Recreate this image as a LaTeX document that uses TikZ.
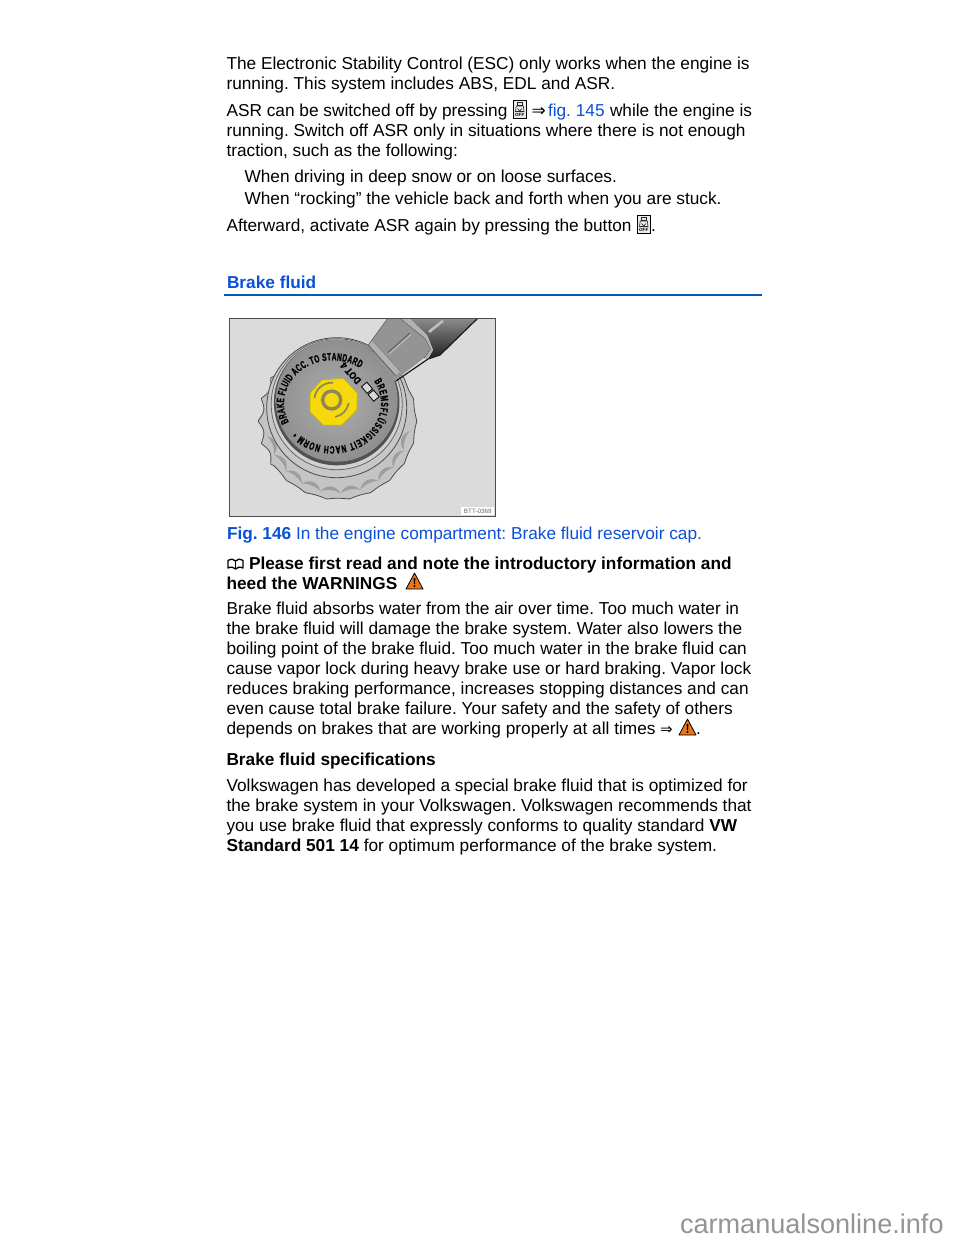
\documentclass[tikz,border=0pt]{standalone}
\usepackage{fontspec}
\setmainfont{Liberation Sans}
\newfontfamily\dvfont{DejaVu Sans}
\newfontfamily\capfont[FakeStretch=0.62,FakeBold=1.2]{Liberation Sans}
\newfontfamily\dotfont[FakeStretch=0.85,FakeBold=1.2]{Liberation Sans}
\usetikzlibrary{decorations.text,calc}
\definecolor{linkblue}{HTML}{0A50D8}
\definecolor{rulecol}{HTML}{0B55B5}
\definecolor{warnor}{HTML}{E8741C}
\definecolor{nutyel}{HTML}{F5D90A}
\definecolor{nutgray}{RGB}{140,135,90}
\newcommand{\bodyf}{\frenchspacing\fontsize{17.27}{20}\selectfont}
\tikzset{
  txt/.style={anchor=base west,inner sep=0pt,outer sep=0pt,text=black,font=\bodyf},
  btxt/.style={txt,font=\bodyf\bfseries},
  ltxt/.style={txt,text=linkblue},
  lbtxt/.style={btxt,text=linkblue},
  pics/asrbtn/.style={code={
    \draw[black,line width=.8,fill=black!8] (0,0) rectangle (13.5,18.5);
    \draw[black!85,line width=.6] (4.5,2.5) rectangle (9,5);
    \draw[black!85,line width=.6] (3.2,6) -- (10.3,6) -- (11,11.5) -- (2.5,11.5) -- cycle;
    \draw[black!85,line width=.6] (4.5,8.5) -- (6.7,11) -- (9,8.5);
    \node[inner sep=0pt,font=\fontsize{4.6}{5}\selectfont\bfseries,text=black] at (6.75,15) {OFF};
  }},
  pics/warntri/.style={code={
    \draw[black,line width=.8,fill=warnor,line join=round] (0,16) -- (8.5,0) -- (17,16) -- cycle;
    \fill[black] (7.6,5) -- (9.4,5) -- (9,11) -- (8,11) -- cycle;
    \fill[black] (8.5,13) circle (1.1);
  }},
  pics/bookicon/.style={code={
    \draw[black,line width=1.3,line join=round] (1,2.5) .. controls (4,0.5) and (7,1) .. (8.5,3) .. controls (10,1) and (13,0.5) .. (16,2.5) -- (16,10) .. controls (13,8.5) and (10,9) .. (8.5,11) .. controls (7,9) and (4,8.5) .. (1,10) -- cycle;
    \draw[black,line width=1] (8.5,3) -- (8.5,11);
  }}
}
\begin{document}
\begin{tikzpicture}[x=1pt,y=-1pt]
\useasboundingbox (0,0) rectangle (960,1242);
\fill[white] (0,0) rectangle (960,1242);
% top text
\node[txt] (a1) at (226.5,69) {The Electronic Stability Control (ESC) only works when the engine is};
\node[txt] (a2) at (226.5,89) {running. This system includes ABS, EDL and ASR.};
\node[txt] (b1) at (226.5,116) {ASR can be switched off by pressing};
\pic at (513,100) {asrbtn};
\node[txt,font=\dvfont\fontsize{17}{20}\selectfont] (b1a) at (531.5,116) {⇒};
\node[ltxt] (b1b) at (548,116) {fig. 145};
\node[txt] (b1c) at (610,116) {while the engine is};
\node[txt] (b2) at (226.5,136) {running. Switch off ASR only in situations where there is not enough};
\node[txt] (b3) at (226.5,156) {traction, such as the following:};
\node[txt] (c1) at (244.5,182) {When driving in deep snow or on loose surfaces.};
\node[txt] (c2) at (244.5,204) {When “rocking” the vehicle back and forth when you are stuck.};
\node[txt] (d1) at (226.5,231) {Afterward, activate ASR again by pressing the button};
\pic at (637,215) {asrbtn};
\node[txt] (d2) at (651,231) {.};
% heading
\node[lbtxt] (h1) at (227,288) {Brake fluid};
\draw[rulecol,line width=2] (224,294.5) -- (762,294.5);
% figure
\fill[black!14] (229,318) rectangle (495,516);
\begin{scope}
\clip (229,318) rectangle (495,516);
\begin{scope}[shift={(336.7,400.7)},y=1pt]
  % skirt
  \filldraw[draw=black!70,fill=black!23,line width=.8,line join=round]
    plot[domain=0:360,samples=500] ({1.3+(75+5*(\x>38 && \x<215 ? 1-abs(sin(11*\x)) : 0.75-0.3*abs(sin(11*\x)))*1)*cos(\x)},{-20.3+(75+5*(\x>38 && \x<215 ? 1-abs(sin(11*\x)) : 0.75-0.3*abs(sin(11*\x)))*1)*sin(\x)}) -- cycle;
  \foreach \a in {200,216,...,344}{
    \fill[black!38] ([shift={(1.3,-20.3)}]\a-8:72.5) .. controls ([shift={(1.3,-20.3)}]\a-4:64) and ([shift={(1.3,-20.3)}]\a+4:64) .. ([shift={(1.3,-20.3)}]\a+8:72.5) .. controls ([shift={(1.3,-20.3)}]\a+4:69) and ([shift={(1.3,-20.3)}]\a-4:69) .. cycle;
  }
  % rings
  \filldraw[draw=black!70,fill=black!22,line width=.8] (0,-7) circle (70);
  \filldraw[draw=black!60,fill=black!18,line width=.8] (0,-3.5) circle (65.5);
  \fill[black!68] (0,-1.8) circle (62.8);
  \shade[inner color=black!32,outer color=black!44] (0,0) circle (61);
\end{scope}
% handle: tube
\shade[shading angle=-50,top color=black!45,bottom color=black!88] (409,318) -- (478,318) -- (440,355) -- (428,359) -- (433,350) -- (427,335) -- cycle;
\fill[black!25] (428,331) -- (442,320) -- (444,321.5) -- (430,333) -- cycle;
% handle: collar
\fill[black!30] (399,318) -- (409,318) -- (427,335) -- (433,350) -- (428,359) -- (424,358) -- (430,349) -- (425,339) -- cycle;
\draw[black!70,line width=1] (399,318) -- (425,339) -- (430,349) -- (424,358);
% handle: neck
\fill[black!42] (368.3,345) -- (388,318) -- (399,318) -- (425,339) -- (430,349) -- (424,358) -- (394,381) -- cycle;
\fill[black!30] (368.3,345) -- (372,340) -- (400,371) -- (396,376) -- cycle;
\draw[black!65,line width=.7] (368.3,345) -- (396,376);
\draw[black!50,line width=.6] (372,340) -- (400,371);
\draw[black!62,line width=1] (388,352.5) -- (410,333);
\draw[black!22,line width=.8] (389,354) -- (411,334.5);
\draw[black!90,line width=1.2] (478,318) -- (440,355) -- (428,359) -- (396,381);
\draw[black!60,line width=.7] (388,318) -- (368.3,345);
\end{scope}
\begin{scope}[shift={(336.7,400.7)},y=1pt]
  \path[decorate,decoration={text along path,text align={fit to path},text={|\capfont\fontsize{10.6}{11}\selectfont\bfseries|BRAKE FLUID ACC. TO STANDARD}}] ([shift={(-4.2,-2.6)}]206:48.5 and 43) arc[start angle=206,end angle=55,x radius=48.5,y radius=43];
  \path[decorate,decoration={text along path,text align={fit to path},text={|\capfont\fontsize{10.6}{11}\selectfont\bfseries|BREMSFLÜSSIGKEIT NACH NORM •}}] ([shift={(-4.2,-2.6)}]31:48.5 and 43) arc[start angle=31,end angle=-138,x radius=48.5,y radius=43];
  \node[inner sep=0pt,rotate=132,font=\dotfont\fontsize{10}{11}\selectfont\bfseries] (dot) at (14,27.5) {DOT 4};
  \begin{scope}[shift={(33.6,9)},rotate=-50]
    \draw[black,line width=.8,fill=black!15] (-9.5,-3.5) rectangle (-.8,3.5);
    \draw[black,line width=.8,fill=black!15] (.8,-3.5) rectangle (9.5,3.5);
  \end{scope}
\end{scope}
% nut
\filldraw[fill=nutyel,draw=nutyel!80!black,line width=.5] (321.7,380) -- (343.3,378.3) -- (357.3,393.3) -- (356.7,410) -- (341.7,425) -- (323.3,425) -- (310,411.7) -- (310,393.3) -- cycle;
\draw[nutgray,line width=3.3] (331.7,400) circle (9);
\begin{scope}[shift={(331.7,400)},y=1pt]
  \draw[nutgray,line width=1.7] (174:17.3) arc[start angle=174,end angle=85,radius=17.3];
  \draw[nutgray,line width=1.7] (-10:17.3) arc[start angle=-10,end angle=-78,radius=17.3];
\end{scope}
% frame
\draw[black!70,line width=.8] (229,318) rectangle (495,516);
\node[fill=white,inner sep=0pt,minimum width=33pt,minimum height=8pt,anchor=south east,font=\fontsize{6.3}{7}\selectfont,text=black!60] (btt) at (494.5,515.5) {BTT-0369};
% caption
\node[lbtxt] (f1) at (227,539) {Fig. 146};
\node[ltxt] (f2) at (296,539) {In the engine compartment: Brake fluid reservoir cap.};
% please
\pic at (227,558) {bookicon};
\node[btxt] (p1) at (249,569) {Please first read and note the introductory information and};
\node[btxt] (p2) at (226.5,589) {heed the WARNINGS};
\pic at (406,573) {warntri};
% body
\node[txt] (g1) at (226.5,614) {Brake fluid absorbs water from the air over time. Too much water in};
\node[txt] (g2) at (226.5,634) {the brake fluid will damage the brake system. Water also lowers the};
\node[txt] (g3) at (226.5,654) {boiling point of the brake fluid. Too much water in the brake fluid can};
\node[txt] (g4) at (226.5,674) {cause vapor lock during heavy brake use or hard braking. Vapor lock};
\node[txt] (g5) at (226.5,694) {reduces braking performance, increases stopping distances and can};
\node[txt] (g6) at (226.5,714) {even cause total brake failure. Your safety and the safety of others};
\node[txt] (g7) at (226.5,734) {depends on brakes that are working properly at all times};
\node[txt,font=\dvfont\fontsize{15}{20}\selectfont] (g7a) at (660,734) {⇒};
\pic at (679,719) {warntri};
\node[txt] (g7b) at (696,734) {.};
\node[btxt] (s0) at (226.5,765) {Brake fluid specifications};
\node[txt] (s1) at (226.5,791) {Volkswagen has developed a special brake fluid that is optimized for};
\node[txt] (s2) at (226.5,811) {the brake system in your Volkswagen. Volkswagen recommends that};
\node[txt] (s3) at (226.5,831) {you use brake fluid that expressly conforms to quality standard \textbf{VW}};
\node[txt] (s4) at (226.5,851) {\textbf{Standard 501 14} for optimum performance of the brake system.};
% watermark
\node[txt,text=black!42,font=\fontsize{27.1}{28}\selectfont] (wm) at (680,1233) {carmanualsonline.info};
\end{tikzpicture}
\end{document}
